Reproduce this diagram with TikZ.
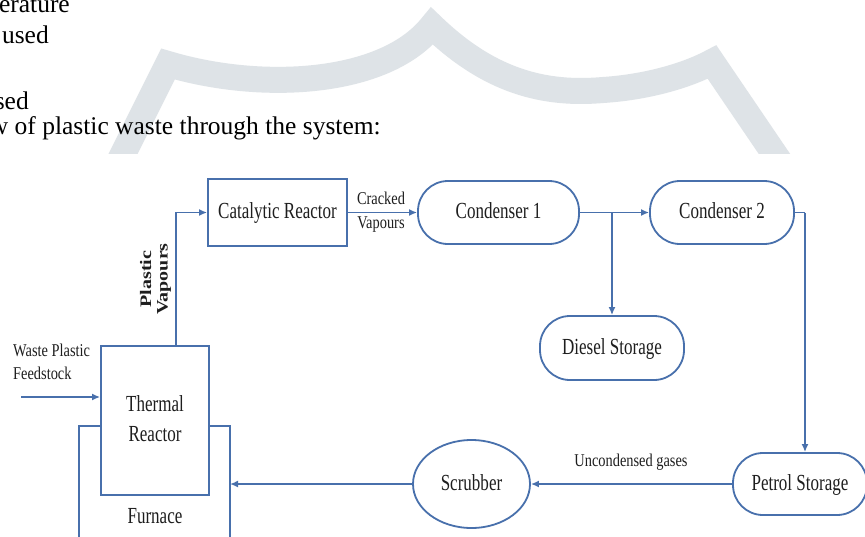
\documentclass[tikz,border=0pt]{standalone}
\usepackage{fontspec}
\setmainfont{Liberation Serif}
\usepackage{graphicx}
\usetikzlibrary{arrows.meta,shapes.geometric,calc}
\definecolor{flow}{RGB}{72,112,172}
\definecolor{wm}{RGB}{222,227,231}
\definecolor{ink}{RGB}{30,30,30}
\newcommand\lbl[1]{\scalebox{0.74}[1]{\fontsize{23}{30}\selectfont\begin{tabular}{@{}c@{}}#1\end{tabular}}}
\newcommand\slbl[2][c]{\scalebox{0.8}[1]{\fontsize{18}{23.5}\selectfont\begin{tabular}{@{}#1@{}}#2\end{tabular}}}
\begin{document}
\begin{tikzpicture}[x=1pt,y=-1pt,
  box/.style={draw=flow,line width=1.8pt,fill=white,rectangle,inner sep=0pt,text=ink},
  pill/.style={box,rounded corners=30pt},
  oval/.style={box,ellipse},
  ln/.style={draw=flow,line width=1.8pt},
  arr/.style={ln,-{Latex[length=8pt,width=7pt]}},
  lab/.style={text=ink,inner sep=1pt},
  body/.style={font=\fontsize{25.5}{30}\selectfont,text=black,inner sep=0pt,anchor=base east}]
\useasboundingbox (0,0) rectangle (865,536);
\fill[white] (0,0) rectangle (865,536);
% watermark
\draw[wm,line width=26pt,line join=miter] (116,168) -- (168,64)
  .. controls (262,92) and (385,85) .. (432,26)
  .. controls (490,82) and (545,95) .. (603,90)
  .. controls (650,87) and (690,74) .. (712,62) -- (784,168);
% body text
\node[body] (t1) at (70,12) {erature};
\node[body] (t2) at (49,43) {used};
\node[body] (t3) at (29,109) {sed};
\node[body] (t4) at (381,134) {w of plastic waste through the system:};
% diagram area
\fill[white] (0,154) rectangle (865,536);
% nodes
\node[box,minimum width=139pt,minimum height=67pt] (cat) at (277.5,212.5) {\lbl{Catalytic Reactor}};
\node[pill,minimum width=161pt,minimum height=63pt] (c1) at (498.5,212.5) {\lbl{Condenser 1}};
\node[pill,minimum width=144pt,minimum height=63pt] (c2) at (722,212.5) {\lbl{Condenser 2}};
\node[pill,minimum width=144pt,minimum height=64pt] (ds) at (612,348) {\lbl{Diesel Storage}};
\node[pill,minimum width=134pt,minimum height=62pt] (ps) at (800,484) {\lbl{Petrol Storage}};
\node[oval,minimum width=117pt,minimum height=88pt] (scr) at (471.5,484) {\lbl{Scrubber}};
\node[box,minimum width=108pt,minimum height=149pt] (tr) at (155,420.5) {\lbl{Thermal\\Reactor}};
% furnace
\coordinate (fl) at (79,426);
\coordinate (fr) at (230,426);
\coordinate (flb) at (79,540);
\coordinate (frb) at (230,540);
\draw[ln] (tr.west |- fl) -- (fl) -- (flb);
\draw[ln] (tr.east |- fr) -- (fr) -- (frb);
\node[lab] (fur) at (155,517) {\lbl{Furnace}};
% connectors
\coordinate (feed) at (21,397);
\draw[arr] (feed) -- (feed -| tr.west);
\coordinate (vup) at ($(tr.north)+(21,0)$);
\draw[arr] (vup) |- (cat.west);
\draw[arr] (cat.east) -- (c1.west);
\draw[arr] (c1.east) -- (c2.west);
\coordinate (br) at (ds.north |- c1.east);
\draw[arr] (br) -- (ds.north);
\coordinate (c2r) at (805,212.5);
\draw[ln] (c2.east) -- (c2r);
\draw[arr] (c2r) -- (c2r |- ps.north);
\draw[arr] (ps.west) -- (scr.east);
\coordinate (fin) at (230,484);
\draw[arr] (scr.west) -- (fin);
% labels
\node[lab] (crk) at (381,212) {\slbl{Cracked\\Vapours}};
\node[lab,anchor=west] (wpf) at (12,363.5) {\slbl[l]{Waste Plastic\\Feedstock}};
\node[lab] (ug) at (631,462) {\slbl{Uncondensed gases}};
\node[lab,rotate=90] (pv) at (156,279) {\scalebox{1.25}[1]{\fontsize{16}{16.5}\selectfont\bfseries\begin{tabular}{@{}c@{}}Plastic\\Vapours\end{tabular}}};
\end{tikzpicture}
\end{document}
